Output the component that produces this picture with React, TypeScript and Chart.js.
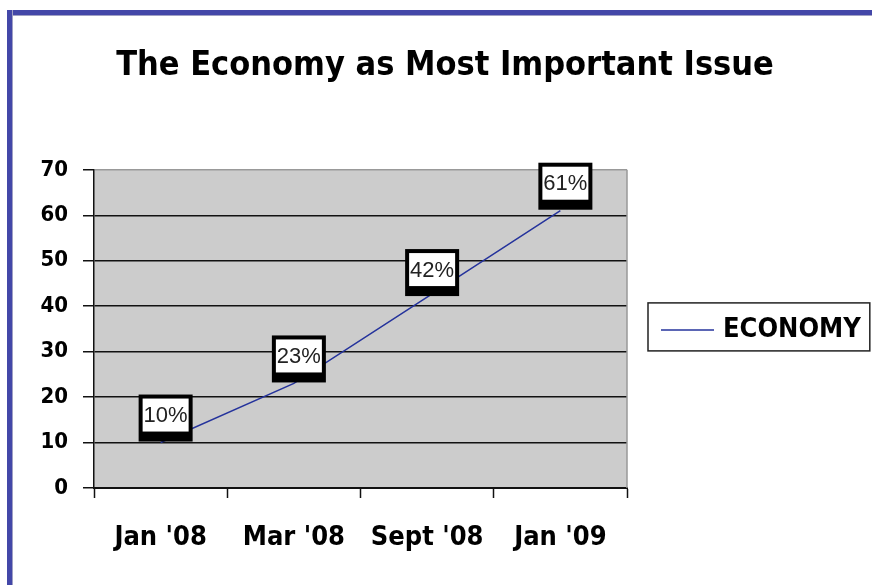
import React, { useEffect, useRef } from "react";
import { Chart, registerables } from "chart.js";

Chart.register(...registerables);

const categories = ["Jan '08", "Mar '08", "Sept '08", "Jan '09"];
const economyValues = [10, 23, 42, 61];
const seriesName = "ECONOMY";
const chartTitle = "The Economy as Most Important Issue";
const yMin = 0;
const yMax = 70;
const yStep = 10;

const LINE_COLOR = "#25339c";
const PLOT_BG = "#cccccc";
const GRID_COLOR = "#111111";
const BOLD_FAMILY = "'DejaVu Sans Condensed', 'Liberation Sans', Arial, sans-serif";

const plotDecor = {
  id: "plotDecor",
  beforeDraw(chart: any) {
    const { ctx, chartArea: a } = chart;
    ctx.save();
    ctx.fillStyle = PLOT_BG;
    ctx.fillRect(a.left, a.top, a.right - a.left, a.bottom - a.top);
    ctx.restore();
  },
  beforeDatasetsDraw(chart: any) {
    const { ctx, chartArea: a } = chart;
    ctx.save();
    ctx.strokeStyle = "#999999";
    ctx.lineWidth = 1.5;
    ctx.beginPath();
    ctx.moveTo(a.right, a.top);
    ctx.lineTo(a.right, a.bottom);
    ctx.stroke();
    ctx.restore();
  },
};

const boxLabels = {
  id: "boxLabels",
  afterDatasetsDraw(chart: any) {
    const { ctx } = chart;
    const meta = chart.getDatasetMeta(0);
    const values = chart.data.datasets[0].data as number[];
    const w = 54;
    const h = 47;
    ctx.save();
    meta.data.forEach((el: any, i: number) => {
      const left = el.x + 5 - w / 2;
      const top = el.y - 1 - h;
      ctx.fillStyle = "#000";
      ctx.fillRect(left, top, w, h);
      ctx.fillStyle = "#fff";
      ctx.fillRect(left + 4, top + 4, w - 8, h - 14);
      ctx.fillStyle = "#222";
      ctx.font = "22px 'Liberation Sans', Arial, sans-serif";
      ctx.textAlign = "center";
      ctx.textBaseline = "middle";
      ctx.fillText(`${values[i]}%`, left + w / 2, top + 4 + (h - 14) / 2 + 1);
    });
    ctx.restore();
  },
};

const boxLegend = {
  id: "boxLegend",
  afterDraw(chart: any) {
    const { ctx, chartArea: a } = chart;
    const ds = chart.data.datasets[0];
    ctx.save();
    ctx.font = `bold 27px ${BOLD_FAMILY}`;
    const tw = ctx.measureText(ds.label).width;
    const bw = 13 + 53 + 9 + tw + 9;
    const bh = 48;
    const left = a.right + 21;
    const cy = (a.top + a.bottom) / 2 - 2;
    const top = cy - bh / 2;
    ctx.fillStyle = "#fff";
    ctx.fillRect(left, top, bw, bh);
    ctx.strokeStyle = "#222";
    ctx.lineWidth = 1.5;
    ctx.strokeRect(left, top, bw, bh);
    ctx.strokeStyle = ds.borderColor;
    ctx.lineWidth = 1.5;
    ctx.beginPath();
    ctx.moveTo(left + 13, cy + 3);
    ctx.lineTo(left + 66, cy + 3);
    ctx.stroke();
    ctx.fillStyle = "#000";
    ctx.textAlign = "left";
    ctx.textBaseline = "middle";
    ctx.fillText(ds.label, left + 75, cy + 3);
    ctx.restore();
  },
};

export default function App() {
  const canvasRef = useRef<HTMLCanvasElement | null>(null);

  useEffect(() => {
    if (!canvasRef.current) return;
    const chart = new Chart(canvasRef.current, {
      type: "line",
      data: {
        labels: categories,
        datasets: [
          {
            label: seriesName,
            data: economyValues,
            borderColor: LINE_COLOR,
            backgroundColor: LINE_COLOR,
            borderWidth: 1.5,
            pointRadius: 0,
            tension: 0,
            yAxisID: "y",
          },
        ],
      },
      options: {
        animation: false,
        responsive: true,
        maintainAspectRatio: false,
        layout: { padding: { top: 10, left: 18, right: 0, bottom: 0 } },
        plugins: {
          legend: { display: false },
          tooltip: { enabled: false },
          title: {
            display: true,
            text: chartTitle,
            color: "#000",
            font: { family: BOLD_FAMILY, size: 34, weight: "bold" },
            padding: { top: 36, bottom: 83 },
          },
        },
        scales: {
          x: {
            type: "category",
            offset: true,
            grid: {
              offset: true,
              drawOnChartArea: false,
              drawTicks: true,
              tickLength: 10,
              tickColor: GRID_COLOR,
              tickWidth: 1.5,
            },
            border: { display: true, color: GRID_COLOR, width: 2 },
            ticks: {
              color: "#000",
              padding: 24,
              font: { family: BOLD_FAMILY, size: 27, weight: "bold" },
              maxRotation: 0,
              autoSkip: false,
            },
            afterFit(scale: any) {
              scale.height = 97;
            },
          },
          y: {
            type: "linear",
            min: yMin,
            max: yMax,
            ticks: {
              stepSize: yStep,
              color: "#000",
              padding: 15,
              font: { family: BOLD_FAMILY, size: 22, weight: "bold" },
            },
            grid: {
              color: (c: any) => (c.tick && c.tick.value === yMax ? "#999999" : GRID_COLOR),
              lineWidth: 1.5,
              drawTicks: true,
              tickLength: 11,
              tickColor: GRID_COLOR,
              tickWidth: 1.5,
            },
            border: { display: true, color: GRID_COLOR, width: 1.5 },
            afterFit(scale: any) {
              scale.width = 76;
            },
          },
          side: {
            type: "linear",
            position: "right",
            display: true,
            ticks: { display: false },
            grid: { display: false, drawTicks: false },
            border: { display: false },
            afterFit(scale: any) {
              scale.width = 245;
            },
          },
        },
      },
      plugins: [plotDecor, boxLabels, boxLegend],
    });
    return () => chart.destroy();
  }, []);

  return (
    <div style={{ position: "absolute", left: 0, top: 0, width: 872, height: 585, background: "#fff" }}>
      <canvas ref={canvasRef} />
      <div style={{ position: "absolute", left: 7, top: 10, width: 865, height: 5, background: "#4347a8", borderBottom: "1px solid #a0a0c4" }} />
      <div style={{ position: "absolute", left: 7, top: 10, width: 5, height: 575, background: "#4347a8", borderRight: "1px solid #a0a0c4" }} />
    </div>
  );
}
